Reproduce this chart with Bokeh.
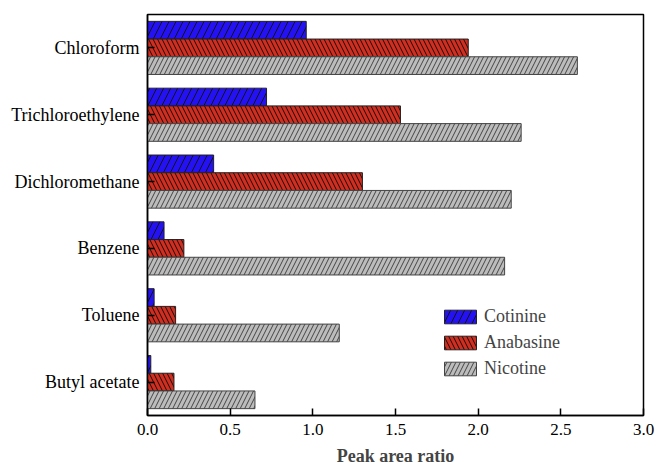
from bokeh.plotting import figure
from bokeh.models import ColumnDataSource, Range1d, FactorRange, FixedTicker, PrintfTickFormatter, Legend, LegendItem
from bokeh.transform import dodge
from bokeh.embed import file_html
from bokeh.resources import INLINE

solvents = ["Chloroform", "Trichloroethylene", "Dichloromethane", "Benzene", "Toluene", "Butyl acetate"]
cotinine = [0.96, 0.72, 0.40, 0.10, 0.04, 0.02]
anabasine = [1.94, 1.53, 1.30, 0.22, 0.17, 0.16]
nicotine = [2.60, 2.26, 2.20, 2.16, 1.16, 0.65]
x_ticks = [0.0, 0.5, 1.0, 1.5, 2.0, 2.5, 3.0]

src = ColumnDataSource(dict(cat=solvents, cot=cotinine, ana=anabasine, nic=nicotine))

SERIF = "'Liberation Serif', 'DejaVu Serif', serif"

p = figure(
    y_range=FactorRange(factors=list(reversed(solvents)), range_padding=0),
    x_range=Range1d(0, 3),
    frame_width=496, frame_height=401,
    min_border_left=147, min_border_right=13, min_border_top=14, min_border_bottom=40,
    output_backend="svg", toolbar_location=None,
)
p.background_fill_color = "white"
p.border_fill_color = "white"
p.xgrid.visible = False
p.ygrid.visible = False
p.outline_line_color = "black"
p.outline_line_width = 1.5

h = 0.265
r1 = p.hbar(y=dodge("cat", h, range=p.y_range), left=0, right="cot", height=h, source=src,
            fill_color="#2412f5", line_color="#222222", line_width=1,
            hatch_pattern="right_diagonal_line", hatch_color="#111111", hatch_scale=14, hatch_weight=1)
r2 = p.hbar(y=dodge("cat", 0, range=p.y_range), left=0, right="ana", height=h, source=src,
            fill_color="#d22d1e", line_color="#222222", line_width=1,
            hatch_pattern="left_diagonal_line", hatch_color="#111111", hatch_scale=9, hatch_weight=1)
r3 = p.hbar(y=dodge("cat", -h, range=p.y_range), left=0, right="nic", height=h, source=src,
            fill_color="#bcbcbc", line_color="#444444", line_width=1,
            hatch_pattern="right_diagonal_line", hatch_color="#444444", hatch_scale=9, hatch_weight=1)

p.xaxis.ticker = FixedTicker(ticks=x_ticks)
p.xaxis.formatter = PrintfTickFormatter(format="%.1f")
p.xaxis.axis_label = "Peak area ratio"
p.xaxis.axis_label_text_font = SERIF
p.xaxis.axis_label_text_font_style = "bold"
p.xaxis.axis_label_text_font_size = "18px"
p.xaxis.axis_label_standoff = 8
p.xaxis.major_label_standoff = 8
p.xaxis.minor_tick_line_color = None

for ax in (p.xaxis, p.yaxis):
    ax.axis_line_color = "black"
    ax.axis_line_width = 1.5
    ax.major_tick_line_color = "black"
    ax.major_tick_line_width = 1.5
    ax.major_tick_in = 7
    ax.major_tick_out = 0
    ax.major_label_text_font = SERIF
    ax.major_label_text_color = "black"
p.xaxis.major_label_text_font_size = "17px"
p.yaxis.major_label_text_font_size = "18px"
p.yaxis.major_label_standoff = 8

legend = Legend(items=[
    LegendItem(label="Cotinine", renderers=[r1]),
    LegendItem(label="Anabasine", renderers=[r2]),
    LegendItem(label="Nicotine", renderers=[r3]),
], location=(293, 36))
legend.glyph_width = 40
legend.glyph_height = 17
legend.label_height = 17
legend.spacing = 5
legend.padding = 0
legend.margin = 0
legend.border_line_alpha = 0
legend.background_fill_alpha = 0
legend.label_text_font = SERIF
legend.label_text_font_size = "18px"
legend.label_standoff = 4
p.add_layout(legend, "center")

open("out.html", "w").write(file_html(p, INLINE))
